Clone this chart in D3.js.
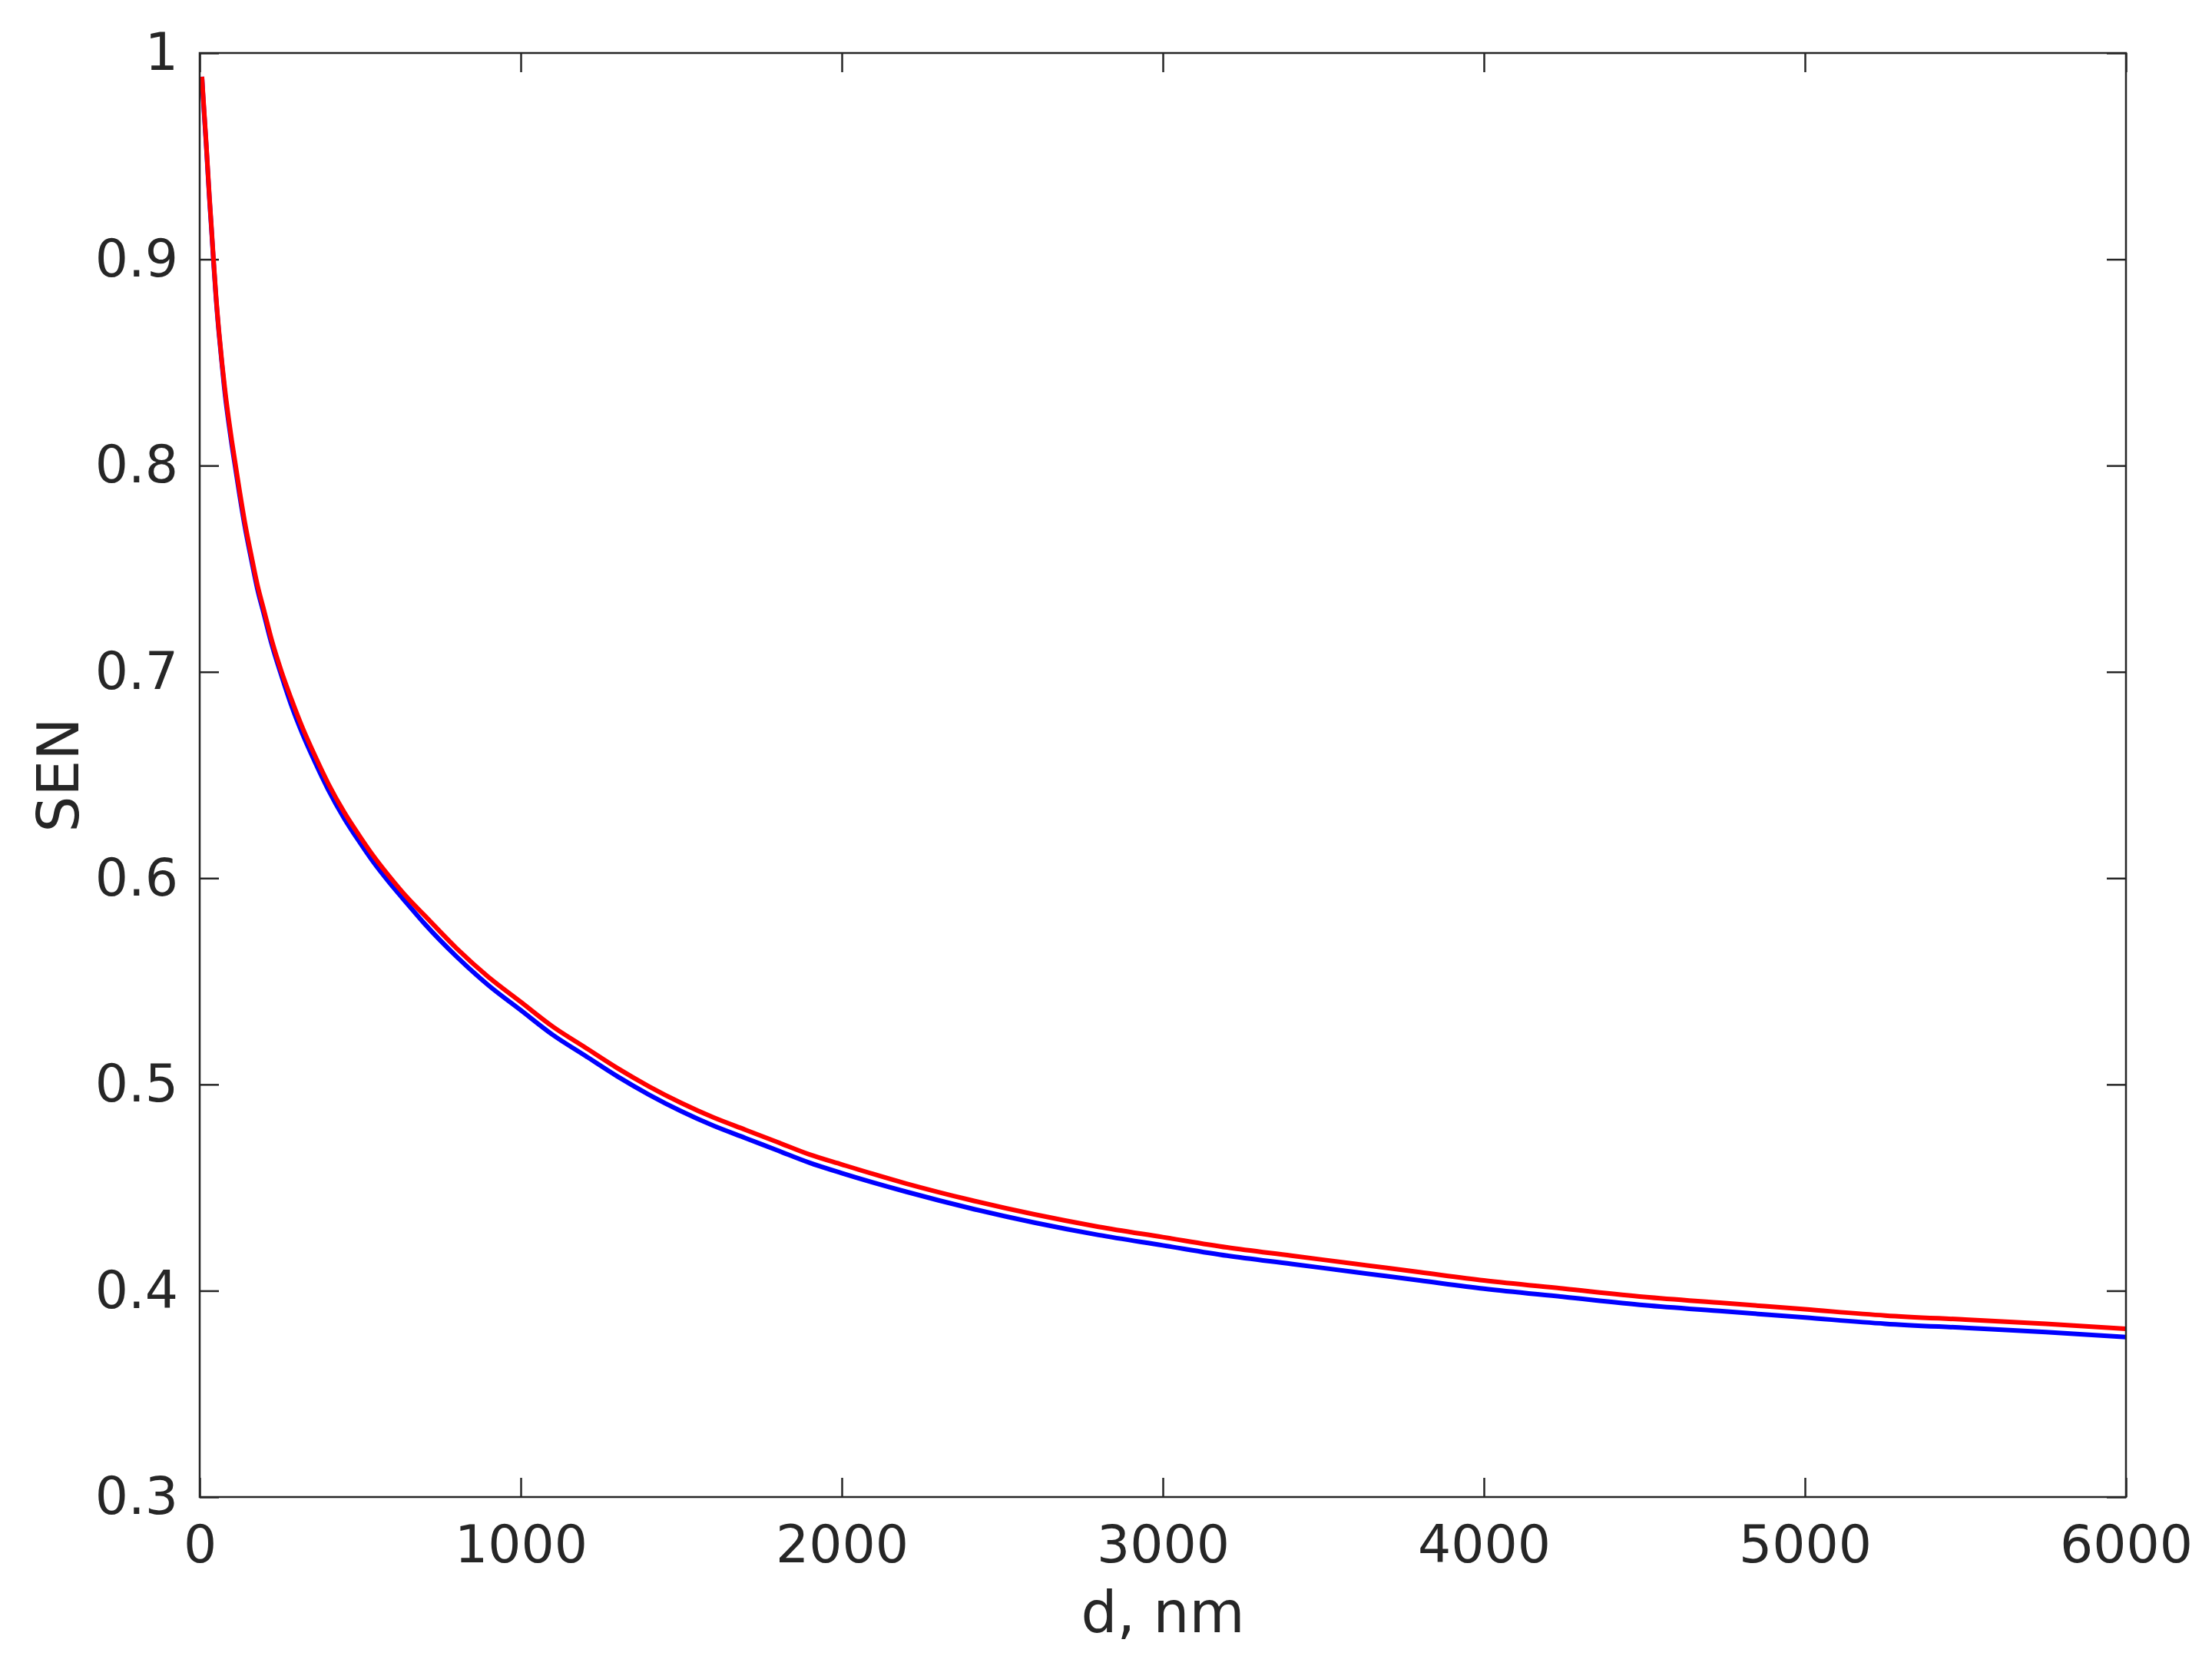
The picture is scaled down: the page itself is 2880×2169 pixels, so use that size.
<!DOCTYPE html>
<html>
<head>
<meta charset="utf-8">
<script src="https://cdn.jsdelivr.net/npm/d3@7"></script>
<style>
  html, body { margin: 0; padding: 0; background: #ffffff; }
  svg { display: block; }
</style>
</head>
<body>
<script>
// ---- data ----
const distances = [7, 10, 15, 20, 25, 30, 36, 43, 50, 60, 70, 80, 90, 100, 112, 125, 140, 160, 180, 200, 225, 255, 285, 320, 360, 400, 450, 500, 540, 590, 650, 700, 800, 900, 1000, 1100, 1200, 1300, 1400, 1500, 1600, 1700, 1800, 1900, 2000, 2200, 2400, 2600, 2800, 3000, 3200, 3400, 3600, 3800, 4000, 4250, 4500, 4750, 5000, 5250, 5500, 5750, 6000];
const senRed  = [0.9885, 0.981, 0.969, 0.957, 0.944, 0.931, 0.917, 0.900, 0.884, 0.865, 0.849, 0.835, 0.823, 0.812, 0.800, 0.787, 0.773, 0.757, 0.742, 0.730, 0.715, 0.700, 0.687, 0.673, 0.659, 0.646, 0.632, 0.620, 0.611, 0.601, 0.590, 0.582, 0.566, 0.552, 0.540, 0.528, 0.518, 0.508, 0.499, 0.491, 0.484, 0.478, 0.472, 0.466, 0.4612, 0.452, 0.444, 0.437, 0.431, 0.426, 0.421, 0.417, 0.413, 0.409, 0.405, 0.401, 0.397, 0.394, 0.391, 0.388, 0.386, 0.384, 0.3815];
const senBlue = [0.9885, 0.980, 0.968, 0.956, 0.943, 0.930, 0.916, 0.899, 0.883, 0.864, 0.848, 0.833, 0.821, 0.810, 0.798, 0.785, 0.771, 0.755, 0.740, 0.728, 0.713, 0.698, 0.684, 0.670, 0.656, 0.643, 0.629, 0.617, 0.608, 0.598, 0.587, 0.578, 0.562, 0.548, 0.536, 0.524, 0.514, 0.504, 0.495, 0.487, 0.480, 0.474, 0.468, 0.462, 0.457, 0.448, 0.440, 0.433, 0.427, 0.422, 0.417, 0.413, 0.409, 0.405, 0.401, 0.397, 0.393, 0.390, 0.387, 0.384, 0.382, 0.380, 0.3775];
const xTicks = [0, 1000, 2000, 3000, 4000, 5000, 6000];
const yTicks = [0.3, 0.4, 0.5, 0.6, 0.7, 0.8, 0.9, 1];
const xLabel = "d, nm";
const yLabel = "SEN";

// ---- layout ----
const W = 2880, H = 2169;
const L = 260, R = 2768, T = 69, B = 1949;
const axisColor = "#262626";
const fontFam = "'DejaVu Sans', sans-serif";
const tickFont = 68, labelFont = 74;
const tickLen = 25;

const svg = d3.select("body").append("svg")
  .attr("width", W).attr("height", H)
  .style("font-family", fontFam);

svg.append("rect").attr("width", W).attr("height", H).attr("fill", "#fff");

const x = d3.scaleLinear().domain([0, 6000]).range([L, R]);
const y = d3.scaleLinear().domain([0.3, 1]).range([B, T]);

const fmtY = d => (d === 1 ? "1" : d3.format(".1f")(d));

function styleAxis(g, showText) {
  g.attr("font-family", null).attr("font-size", null);
  g.select(".domain").remove();
  g.selectAll(".tick line").attr("stroke", axisColor).attr("stroke-width", 2.5);
  g.selectAll(".tick text").attr("fill", axisColor)
    .style("font-family", fontFam).style("font-size", tickFont + "px");
  if (!showText) g.selectAll(".tick text").remove();
}

// bottom
svg.append("g").attr("transform", `translate(0,${B})`)
  .call(d3.axisBottom(x).tickValues(xTicks).tickFormat(d3.format("d")).tickSizeInner(-tickLen).tickSizeOuter(0).tickPadding(37))
  .call(g => styleAxis(g, true));
// top
svg.append("g").attr("transform", `translate(0,${T})`)
  .call(d3.axisTop(x).tickValues(xTicks).tickSizeInner(-tickLen).tickSizeOuter(0))
  .call(g => styleAxis(g, false));
// left
svg.append("g").attr("transform", `translate(${L},0)`)
  .call(d3.axisLeft(y).tickValues(yTicks).tickFormat(fmtY).tickSizeInner(-tickLen).tickSizeOuter(0).tickPadding(28))
  .call(g => styleAxis(g, true));
// right
svg.append("g").attr("transform", `translate(${R},0)`)
  .call(d3.axisRight(y).tickValues(yTicks).tickSizeInner(-tickLen).tickSizeOuter(0))
  .call(g => styleAxis(g, false));

// series
const line = d3.line().x(d => x(d[0])).y(d => y(d[1])).curve(d3.curveMonotoneX);
const blueData = distances.map((d, i) => [d, senBlue[i]]);
const redData = distances.map((d, i) => [d, senRed[i]]);

svg.append("path").datum(blueData).attr("d", line)
  .attr("fill", "none").attr("stroke", "#0000ff").attr("stroke-width", 6)
  .attr("stroke-linejoin", "round");
svg.append("path").datum(redData).attr("d", line)
  .attr("fill", "none").attr("stroke", "#ff0000").attr("stroke-width", 6)
  .attr("stroke-linejoin", "round");

// box
svg.append("rect").attr("x", L).attr("y", T).attr("width", R - L).attr("height", B - T)
  .attr("fill", "none").attr("stroke", axisColor).attr("stroke-width", 2.5);

// axis labels
svg.append("text").attr("x", (L + R) / 2).attr("y", 2125)
  .attr("text-anchor", "middle").attr("fill", axisColor)
  .style("font-size", labelFont + "px").text(xLabel);
svg.append("text").attr("transform", `translate(102,${(T + B) / 2}) rotate(-90)`)
  .attr("text-anchor", "middle").attr("fill", axisColor)
  .style("font-size", labelFont + "px").text(yLabel);
</script>
</body>
</html>
